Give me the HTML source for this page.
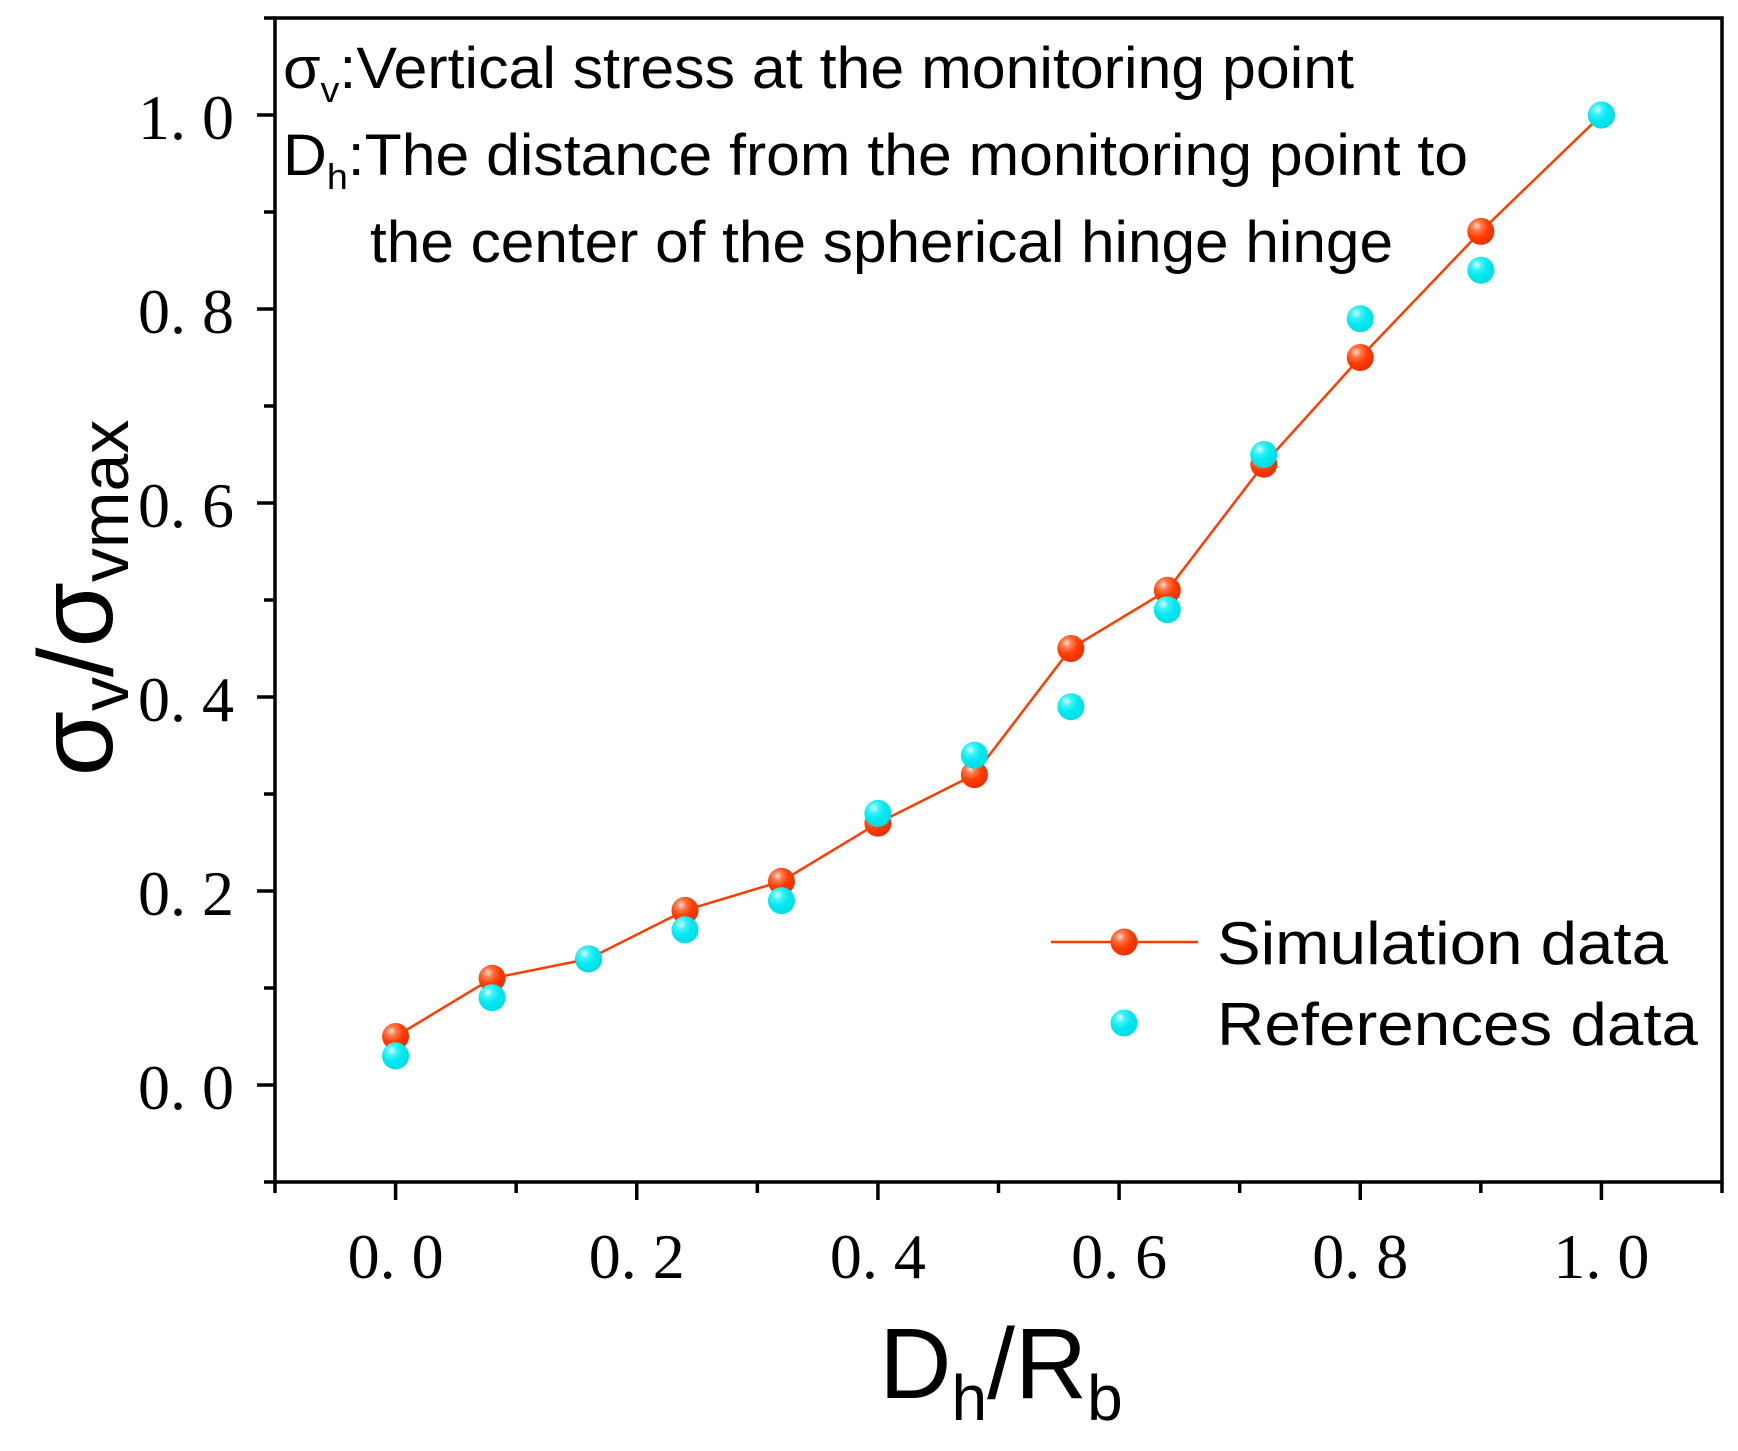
<!DOCTYPE html>
<html><head><meta charset="utf-8"><style>
html,body{margin:0;padding:0;background:#fff;}
svg{display:block;}
</style></head><body>
<svg id="chart" width="1738" height="1451" viewBox="0 0 1738 1451" xmlns="http://www.w3.org/2000/svg">
<defs>
<radialGradient id="gRed" cx="0.35" cy="0.3" r="0.7">
<stop offset="0" stop-color="#ffe0d8"/><stop offset="0.25" stop-color="#ff7a50"/><stop offset="0.6" stop-color="#ff3d00"/><stop offset="1" stop-color="#e83000"/>
</radialGradient>
<radialGradient id="gCyan" cx="0.35" cy="0.3" r="0.7">
<stop offset="0" stop-color="#e8ffff"/><stop offset="0.25" stop-color="#40f4f8"/><stop offset="0.6" stop-color="#00e8f0"/><stop offset="1" stop-color="#00dce6"/>
</radialGradient>
</defs>
<g id="axes"></g>
<g id="marks"></g>
<g font-family="Liberation Sans, Arial, sans-serif" fill="#000">
<text x="283" y="88" font-size="58" textLength="1071" lengthAdjust="spacingAndGlyphs">σ<tspan font-size="36" dy="14">v</tspan><tspan dy="-14">:Vertical stress at the monitoring point</tspan></text>
<text x="283" y="175" font-size="58" textLength="1185" lengthAdjust="spacingAndGlyphs">D<tspan font-size="36" dy="14">h</tspan><tspan dy="-14">:The distance from the monitoring point to</tspan></text>
<text x="370" y="262" font-size="58" textLength="1023" lengthAdjust="spacingAndGlyphs">the center of the spherical hinge hinge</text>
</g>
<g font-family="Liberation Sans, Arial, sans-serif" font-size="60" fill="#000">
<line x1="1051" y1="942" x2="1198" y2="942" stroke="#ff3d00" stroke-width="2.5"/>
<circle cx="1124" cy="942" r="13.5" fill="url(#gRed)"/>
<text x="1217" y="964" textLength="451" lengthAdjust="spacingAndGlyphs">Simulation data</text>
<circle cx="1124" cy="1023" r="13.5" fill="url(#gCyan)"/>
<text x="1217" y="1045" textLength="481" lengthAdjust="spacingAndGlyphs">References data</text>
</g>
<text transform="translate(112,598) rotate(-90)" text-anchor="middle" font-family="Liberation Sans, Arial, sans-serif" font-size="106" fill="#000">σ<tspan font-size="68" dy="16">v</tspan><tspan dy="-16">/σ</tspan><tspan font-size="68" dy="16">vmax</tspan></text>
<text x="1001" y="1398" text-anchor="middle" font-family="Liberation Sans, Arial, sans-serif" font-size="100" fill="#000">D<tspan font-size="64" dy="22">h</tspan><tspan dy="-22">/R</tspan><tspan font-size="64" dy="22">b</tspan></text>
</svg>
<script>
const xCats = [0, 0.08, 0.16, 0.24, 0.32, 0.40, 0.48, 0.56, 0.64, 0.72, 0.80, 0.90, 1.0];
const simValues = [0.05, 0.11, 0.13, 0.18, 0.21, 0.27, 0.32, 0.45, 0.51, 0.64, 0.75, 0.88, 1.0];
const refValues = [0.03, 0.09, 0.13, 0.16, 0.19, 0.28, 0.34, 0.39, 0.49, 0.65, 0.79, 0.84, 1.0];
const xTickLabels = ["0. 0", "0. 2", "0. 4", "0. 6", "0. 8", "1. 0"];
const yTickLabels = ["0. 0", "0. 2", "0. 4", "0. 6", "0. 8", "1. 0"];

const NS = "http://www.w3.org/2000/svg";
const L = 275, R = 1722, T = 18, B = 1182;
const xmin = -0.1, xmax = 1.1, ymin = -0.1, ymax = 1.1;
function sx(v){ return L + (v - xmin) / (xmax - xmin) * (R - L); }
function sy(v){ return B - (v - ymin) / (ymax - ymin) * (B - T); }
function mk(tag, attrs, parent){
  const e = document.createElementNS(NS, tag);
  for (const k in attrs) e.setAttribute(k, attrs[k]);
  parent.appendChild(e);
  return e;
}
const axes = document.getElementById('axes');
const marks = document.getElementById('marks');

const frame = mk('rect', {x: L, y: T, width: R - L, height: B - T, fill: 'none', stroke: '#000', 'stroke-width': 3.5}, axes);



for (let i = -1; i <= 11; i++) {
  const v = i / 10;
  const major = (i % 2 === 0) && i >= 0;
  const len = major ? 18 : 11;
  const xt = mk('line', {x1: sx(v), y1: B, x2: sx(v), y2: B + len, stroke: '#000', 'stroke-width': 3.5}, axes);
  
  
  const yt = mk('line', {x1: L - len, y1: sy(v), x2: L, y2: sy(v), stroke: '#000', 'stroke-width': 3.5}, axes);
  
  
}
xTickLabels.forEach((t, i) => {
  const v = i * 0.2;
  const tx = mk('text', {x: sx(v), y: 1278, 'text-anchor': 'middle', 'font-family': 'Liberation Serif, serif', 'font-size': 64, fill: '#000'}, axes);
  tx.textContent = t;
  
  
});
yTickLabels.forEach((t, i) => {
  const v = i * 0.2;
  const ty = mk('text', {x: 234, y: sy(v) + 24, 'text-anchor': 'end', 'font-family': 'Liberation Serif, serif', 'font-size': 64, fill: '#000'}, axes);
  ty.textContent = t;
  
  
});

const pts = xCats.map((x, i) => sx(x) + ',' + sy(simValues[i])).join(' ');
const line = mk('polyline', {points: pts, fill: 'none', stroke: '#ff3d00', 'stroke-width': 2.5}, marks);



xCats.forEach((x, i) => {
  const c = mk('circle', {cx: sx(x), cy: sy(simValues[i]), r: 13.5, fill: 'url(#gRed)'}, marks);
  
  
});
xCats.forEach((x, i) => {
  const c = mk('circle', {cx: sx(x), cy: sy(refValues[i]), r: 13.5, fill: 'url(#gCyan)'}, marks);
  
  
});
</script>
</body></html>
